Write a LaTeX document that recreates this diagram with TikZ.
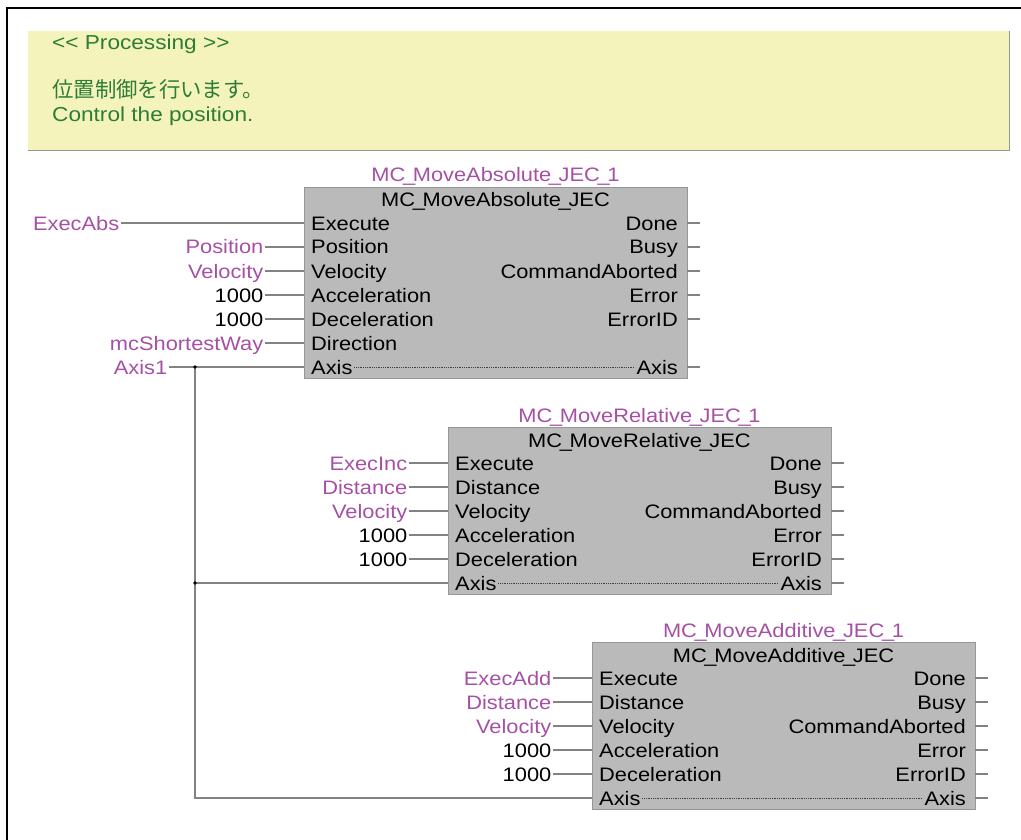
\documentclass[tikz,border=0pt]{standalone}
\usepackage{fontspec}
\setmainfont[FakeStretch=1.12]{Liberation Sans}
\newfontfamily\jpfont{Noto Sans CJK JP}

\definecolor{varc}{RGB}{165,80,165}
\definecolor{cmtgreen}{RGB}{45,125,55}
\definecolor{cmtfill}{RGB}{244,243,187}
\definecolor{cmtshadow}{RGB}{150,150,150}
\definecolor{fbfill}{RGB}{186,186,186}
\definecolor{fbedge}{RGB}{150,150,150}
\definecolor{wirec}{RGB}{130,130,130}

\newcommand\fs{\fontsize{19.5}{22}\selectfont}
% narrow underscore used in block names
\newcommand\usc{\hbox to 7.5pt{\hss\_\hss}}

\tikzset{
  fb/.style={draw=fbedge, fill=fbfill, line width=1pt, inner sep=0pt,
    anchor=north west, minimum width=383pt},
  port/.style={inner sep=0pt, inner xsep=1.5pt, text=black, font=\fs},
  pin/.style={inner sep=0pt, inner xsep=1.5pt, text=varc, font=\fs},
  inst/.style={inner sep=0pt, text=varc, font=\fs, anchor=base},
  wire/.style={draw=wirec, line width=1.4pt},
  stub/.style={draw=wirec, line width=1.2pt},
  axdots/.style={draw=black!75, line width=0.8pt, densely dotted},
  cmt/.style={inner sep=0pt, text=cmtgreen, anchor=base west},
}

% #1 name, #2 left x, #3 top y, #4 type name, #5 input ports, #6 row of Axis
\newcommand\mcblock[6]{%
  \node[fb, minimum height={#6*24pt+47pt}] (#1) at (#2,#3) {};
  \node[inst] (#1n) at ({#2+191.5},{#3-5}) {#4\usc1};
  \node[port, anchor=base] (#1t) at ({#2+191.5},{#3+20}) {#4};
  \foreach \pn [count=\k from 0] in {#5} {
    \coordinate (#1i\k) at (#2,{#3+36+24*\k});
    \node[port, anchor=base west] (#1p\k) at ({#2+5.5},{#3+43+24*\k}) {\pn};
  }
  \foreach \on [count=\k from 0] in {Done,Busy,CommandAborted,Error,ErrorID} {
    \coordinate (#1o\k) at ({#2+383},{#3+36+24*\k});
    \coordinate (#1s\k) at ({#2+396},{#3+36+24*\k});
    \node[port, anchor=base east] (#1q\k) at ({#2+375.5},{#3+43+24*\k}) {\on};
    \draw[stub] (#1o\k) -- (#1s\k);
  }
  \coordinate (#1oa) at ({#2+383},{#3+36+24*#6});
  \coordinate (#1sa) at ({#2+396},{#3+36+24*#6});
  \node[port, anchor=base east] (#1ax) at ({#2+375.5},{#3+43+24*#6}) {Axis};
  \draw[stub] (#1oa) -- (#1sa);
  \draw[axdots] (#1p#6.east |- #1oa) -- (#1ax.west |- #1oa);
}

\begin{document}
\begin{tikzpicture}[x=1pt,y=-1pt]
\useasboundingbox (0,0) rectangle (1021,840);

% sheet frame
\draw[line width=2.6pt, line cap=rect] (7,840) -- (7,8) -- (1021,8);

% comment box
\fill[cmtfill] (28,31) rectangle (1009,150);
\draw[cmtshadow, line width=1.4pt] (1009.5,31) -- (1009.5,150.5) -- (28,150.5);
\node[cmt, font=\fontsize{20.2}{23}\selectfont] (c1) at (52,50) {{<}{<} Processing {>}{>}};
\node[cmt, font=\jpfont\fontsize{21.4}{24}\selectfont] (c2) at (52,98) {位置制御を行います。};
\node[cmt, font=\fontsize{20.2}{23}\selectfont] (c3) at (52,122) {Control the position.};

% function blocks
\mcblock{b1}{304}{187}{MC\usc MoveAbsolute\usc JEC}{Execute,Position,Velocity,Acceleration,Deceleration,Direction,Axis}{6}
\mcblock{b2}{448}{427}{MC\usc MoveRelative\usc JEC}{Execute,Distance,Velocity,Acceleration,Deceleration,Axis}{5}
\mcblock{b3}{592}{642}{MC\usc MoveAdditive\usc JEC}{Execute,Distance,Velocity,Acceleration,Deceleration,Axis}{5}

% input variables and constants
\foreach \lx/\lab/\col [count=\k from 0] in
  {121/ExecAbs/varc, 265/Position/varc, 265/Velocity/varc, 265/1000/black,
   265/1000/black, 265/mcShortestWay/varc} {
  \node[pin, text=\col, anchor=base east] (b1l\k) at (\lx,{230+24*\k}) {\lab};
  \draw[wire] (b1l\k.east |- b1i\k) -- (b1i\k);
}
\foreach \lab/\col [count=\k from 0] in
  {ExecInc/varc, Distance/varc, Velocity/varc, 1000/black, 1000/black} {
  \node[pin, text=\col, anchor=base east] (b2l\k) at (409,{470+24*\k}) {\lab};
  \draw[wire] (b2l\k.east |- b2i\k) -- (b2i\k);
}
\foreach \lab/\col [count=\k from 0] in
  {ExecAdd/varc, Distance/varc, Velocity/varc, 1000/black, 1000/black} {
  \node[pin, text=\col, anchor=base east] (b3l\k) at (553,{685+24*\k}) {\lab};
  \draw[wire] (b3l\k.east |- b3i\k) -- (b3i\k);
}

% shared axis
\node[pin, anchor=base east] (ax1) at (169,374) {Axis1};
\coordinate (j1) at (195,367);
\coordinate (j2) at (j1 |- b2i5);
\draw[wire] (ax1.east |- b1i6) -- (b1i6);
\draw[wire] (j1) |- (b3i5);
\draw[wire] (j2) -- (b2i5);
\fill (j1) circle (1.8);
\fill (j2) circle (1.8);
\end{tikzpicture}
\end{document}
